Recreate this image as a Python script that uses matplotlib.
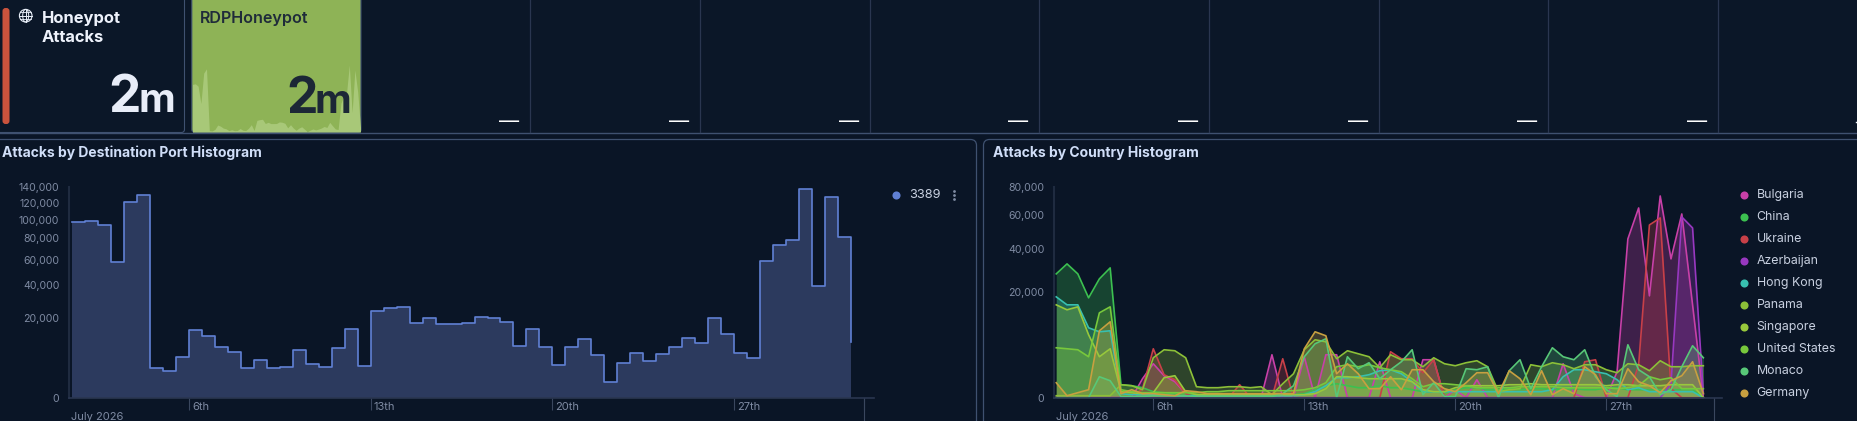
import numpy as np
import matplotlib
matplotlib.use("Agg")
import matplotlib.pyplot as plt
from matplotlib.patches import Circle, Ellipse, FancyBboxPatch, Rectangle
from matplotlib.transforms import ScaledTranslation

plt.rcParams['font.family'] = ['Inter', 'DejaVu Sans']

W, H = 1857, 421

# 12 hour buckets, as day of July
days = np.arange(1.5, 31.75, 0.5)

port_3389 = [97405, 98515, 93750, 58160, 120390, 129160, 2830, 2236, 5286, 14257,
             11958, 7967, 6462, 2767, 4541, 2706, 2957, 7145, 3564, 2893,
             7653, 14971, 3153, 23801, 25282, 26040, 17375, 19791, 17219, 17219,
             17375, 20631, 19958, 17846, 8503, 14971, 8179, 3424, 7967, 10700,
             5814, 739, 3707, 6180, 4305, 5905, 8072, 11320, 9283, 19791,
             12746, 6274, 5031, 58733, 73290, 78500, 136917, 39680, 126620, 81847,
             9628]

bulgaria = [0, 0, 0, 0, 0, 0, 0, 0, 649, 2077,
            870, 460, 29, 0, 0, 0, 0, 0, 0, 0,
            3323, 0, 0, 3021, 0, 3323, 3323, 0, 0, 0,
            2329, 0, 0, 0, 2595, 2595, 0, 115, 0, 582,
            0, 0, 0, 0, 0, 0, 0, 2077, 29, 0,
            0, 0, 1215, 45430, 64871, 18696, 73326, 34721, 60840, 15542,
            0]
china = [27631, 32267, 27631, 17970, 25449, 30369, 304, 259, 180, 65,
         45, 29, 29, 16, 16, 16, 16, 16, 16, 16,
         16, 16, 16, 29, 115, 259, 352, 259, 180, 180,
         259, 180, 180, 115, 65, 65, 45, 115, 180, 180,
         115, 115, 146, 115, 146, 146, 115, 146, 146, 115,
         115, 180, 180, 115, 115, 115, 115, 115, 115, 115,
         0]
ukraine = [0, 0, 0, 0, 0, 0, 0, 0, 146, 4315,
           950, 582, 29, 0, 0, 0, 0, 304, 0, 0,
           0, 2733, 0, 0, 0, 0, 0, 0, 0, 0,
           0, 3802, 2733, 2733, 1123, 2595, 0, 0, 0, 0,
           0, 0, 0, 0, 0, 0, 0, 0, 0, 2329,
           2595, 0, 0, 0, 1957, 53782, 58223, 146, 0, 0,
           0]
azerbaijan = [0, 0, 0, 0, 0, 0, 0, 0, 0, 0,
              0, 0, 0, 0, 0, 0, 0, 0, 0, 0,
              0, 0, 0, 0, 0, 0, 0, 0, 0, 0,
              0, 0, 0, 0, 0, 0, 0, 0, 0, 0,
              0, 0, 0, 0, 0, 0, 0, 0, 0, 0,
              0, 0, 0, 0, 0, 0, 0, 352, 58871, 51933,
              29]
hong_kong = [18331, 15542, 15542, 8805, 7828, 8067, 29, 16, 16, 16,
             16, 7, 7, 7, 7, 7, 7, 7, 7, 7,
             7, 7, 7, 16, 65, 259, 719, 719, 792, 950,
             1310, 1409, 1035, 460, 65, 65, 65, 65, 65, 65,
             65, 65, 65, 65, 65, 65, 115, 792, 1409, 1409,
             1215, 1035, 582, 115, 180, 65, 65, 65, 65, 65,
             0]
panama = [7, 7, 7, 7, 7, 7, 304, 259, 115, 2875,
          4140, 3970, 2875, 217, 180, 180, 217, 217, 180, 217,
          16, 352, 1035, 4140, 6045, 5635, 2733, 3970, 3479, 3021,
          1617, 3323, 2595, 2595, 1727, 2875, 2077, 1840, 2201, 2460,
          1727, 65, 115, 146, 1957, 1727, 2201, 1957, 1511, 1957,
          1957, 1409, 1123, 2077, 1957, 1310, 2460, 1727, 1727, 1840,
          1840]
singapore = [15542, 13916, 14881, 7132, 3021, 4315, 65, 45, 29, 45,
             719, 870, 65, 16, 16, 16, 16, 16, 16, 16,
             16, 16, 16, 16, 29, 146, 792, 792, 719, 649,
             649, 649, 649, 460, 115, 65, 65, 180, 259, 259,
             259, 259, 304, 304, 352, 304, 304, 304, 304, 304,
             304, 259, 304, 304, 259, 259, 259, 304, 304, 304,
             0]
united_states = [4493, 4315, 4140, 3021, 12983, 14881, 115, 65, 45, 45,
                 45, 45, 45, 45, 65, 65, 88, 88, 88, 88,
                 88, 88, 88, 115, 180, 404, 1727, 1957, 1727, 1957,
                 1617, 1409, 1215, 649, 217, 352, 352, 304, 259, 180,
                 180, 180, 180, 217, 217, 217, 217, 180, 180, 180,
                 180, 180, 146, 180, 259, 792, 582, 719, 146, 146,
                 146]
monaco = [0, 0, 0, 0, 792, 519, 2, 2, 2, 7,
          7, 7, 7, 2, 2, 2, 2, 2, 2, 2,
          2, 29, 259, 3021, 5240, 6255, 0, 3021, 1511, 2201,
          649, 1409, 2329, 4140, 16, 404, 2, 2, 1511, 1409,
          1727, 0, 1310, 2595, 146, 1727, 4493, 3021, 2595, 4140,
          792, 115, 2, 5048, 1409, 792, 16, 115, 1727, 4859,
          2875]
germany = [404, 7, 45, 115, 8067, 10380, 29, 115, 29, 29,
           16, 7, 88, 65, 29, 29, 29, 29, 29, 29,
           29, 29, 29, 4315, 7828, 6908, 1035, 2077, 1035, 146,
           146, 792, 115, 1409, 1409, 460, 146, 65, 404, 1123,
           1123, 29, 1310, 649, 16, 1310, 16, 146, 29, 1727,
           950, 29, 29, 1511, 460, 259, 45, 519, 870, 2329,
           29]

countries = ['Bulgaria', 'China', 'Ukraine', 'Azerbaijan', 'Hong Kong',
             'Panama', 'Singapore', 'United States', 'Monaco', 'Germany']
country_values = [bulgaria, china, ukraine, azerbaijan, hong_kong,
                  panama, singapore, united_states, monaco, germany]
country_colors = ['#c840a8', '#3cc050', '#c84048', '#9838c0', '#38c0b0',
                  '#8cc038', '#98c83c', '#78c83c', '#58c878', '#c8a040']

port_ticks = [0, 20000, 40000, 60000, 80000, 100000, 120000, 140000]
country_ticks = [0, 20000, 40000, 60000, 80000]
day_ticks = [6, 13, 20, 27, 32]
day_labels = ['6th', '13th', '20th', '27th', '']

BG = '#0a1526'
STRIP = '#0b1728'
BORDER = '#3f5170'
TICK = '#7f8ba3'
TITLE = '#d0def8'

fig = plt.figure(figsize=(W / 100, H / 100), dpi=100, facecolor=BG)


def px_axes(x0, y0, x1, y1, **kw):
    return fig.add_axes([x0 / W, 1 - y1 / H, (x1 - x0) / W, (y1 - y0) / H], **kw)


# everything around the charts is drawn in pixel coordinates
bg = px_axes(0, 0, W, H)
bg.set_xlim(0, W)
bg.set_ylim(H, 0)
bg.axis('off')

bg.add_patch(Rectangle((0, 0), W, 132.5, color=STRIP, lw=0))
bg.plot([0, W], [132.5, 132.5], color=BORDER, lw=1)

# first card
bg.add_patch(FancyBboxPatch((-10, -10), 194.5, 142.5, boxstyle='round,pad=0,rounding_size=3',
                            fc=STRIP, ec=BORDER, lw=0.8))
bg.add_patch(FancyBboxPatch((2.5, 8), 7, 116, boxstyle='round,pad=0,rounding_size=3',
                            fc='#c9533d', ec='none'))
bg.add_patch(Circle((25.7, 15.7), 6.3, fc='none', ec='#e8eef8', lw=0.8))
bg.add_patch(Ellipse((25.7, 15.7), 6, 12.6, fc='none', ec='#e8eef8', lw=0.7))
bg.plot([19.4, 32], [15.7, 15.7], color='#e8eef8', lw=0.7)
bg.plot([25.7, 25.7], [9.4, 22], color='#e8eef8', lw=0.7)
bg.plot([20.4, 31], [12, 12], color='#e8eef8', lw=0.6)
bg.plot([20.4, 31], [19.4, 19.4], color='#e8eef8', lw=0.6)
bg.text(42, 18, 'Honeypot', color='#eef2fb', fontsize=11.9, fontweight='bold', va='center')
bg.text(42, 37, 'Attacks', color='#eef2fb', fontsize=11.9, fontweight='bold', va='center')
bg.text(141, 112, '2', color='#e8edf8', fontsize=37, fontweight='bold', ha='right', va='baseline')
bg.text(175.5, 112, 'm', color='#e8edf8', fontsize=29, fontweight='bold', ha='right', va='baseline')

# green card
bg.add_patch(FancyBboxPatch((191.8, -10), 169.2, 142.5, boxstyle='round,pad=0,rounding_size=3',
                            fc='#8eb356', ec=BORDER, lw=0.8))
spark = px_axes(192.5, 65, 360.5, 132)
spark.fill_between(days, port_3389, 0, color='#a8c878', lw=0)
spark.set_xlim(1.5, 31.5)
spark.set_ylim(0, 137000)
spark.axis('off')

# the empty cards
for x in [530, 700, 870, 1039, 1209, 1379, 1548, 1718]:
    bg.plot([x, x], [0, 132], color='#2a3650', lw=0.9)
    bg.text(x - 21, 122.5, '—', color='#ffffff', fontsize=14.5, ha='center', va='center')
bg.plot([1856, 1858], [122.3, 122.3], color='#f0f4fa', lw=1)

top = fig.add_axes([0, 0, 1, 1], facecolor='none')
top.set_xlim(0, W)
top.set_ylim(H, 0)
top.axis('off')
top.text(200, 19, 'RDPHoneypot', color='#1f2b3a', fontsize=11.6, fontweight='semibold', va='center')
top.text(318, 112.7, '2', color='#1c2736', fontsize=36, fontweight='bold', ha='right', va='baseline')
top.text(351.5, 112.7, 'm', color='#1c2736', fontsize=29, fontweight='bold', ha='right', va='baseline')

# panels
bg.add_patch(FancyBboxPatch((-10, 139.5), 986.5, 300, boxstyle='round,pad=0,rounding_size=6',
                            fc=BG, ec=BORDER, lw=0.9))
bg.add_patch(FancyBboxPatch((983.5, 139.5), 1000, 300, boxstyle='round,pad=0,rounding_size=6',
                            fc=BG, ec=BORDER, lw=0.9))
top.text(2, 152.3, 'Attacks by Destination Port Histogram', color=TITLE, fontsize=10,
         fontweight='bold', va='center')
top.text(992.7, 152.3, 'Attacks by Country Histogram', color=TITLE, fontsize=10,
         fontweight='bold', va='center')


def style_axis(ax, yticks):
    ax.set_facecolor('none')
    ax.set_yscale('function', functions=(np.sqrt, lambda v: v ** 2))
    ax.set_ylim(0, yticks[-1])
    ax.set_yticks(yticks)
    ax.set_yticklabels([f'{v:,}' for v in yticks])
    ax.minorticks_off()
    ax.tick_params(axis='y', length=0, pad=7, labelsize=7.6, labelcolor=TICK)
    ax.set_xticks(day_ticks)
    ax.set_xticklabels(day_labels, ha='left')
    ax.tick_params(axis='x', length=8.6, width=0.8, color='#3a475e', pad=-5.8, labelsize=8, labelcolor=TICK)
    shift = ScaledTranslation(3 / 100, 0, fig.dpi_scale_trans)
    for lab in ax.get_xticklabels():
        lab.set_transform(lab.get_transform() + shift)
    for s in ['top', 'right']:
        ax.spines[s].set_visible(False)
    ax.spines['left'].set_color('#1f2b40')
    ax.spines['left'].set_linewidth(1.5)
    ax.spines['bottom'].set_color('#2a3650')
    ax.spines['bottom'].set_linewidth(1.2)
    # august tick runs off the bottom, no label
    ax.plot([32, 32], [0, -0.11], transform=ax.get_xaxis_transform(), color='#3a475e',
            lw=0.8, clip_on=False)
    ax.annotate('July 2026', (0, 0), xycoords='axes fraction', xytext=(2, -19),
                textcoords='offset pixels', color=TICK, fontsize=8, va='center',
                annotation_clip=False)


ax1 = px_axes(69, 187, 874, 397.7)
ax1.fill_between(days, port_3389, 0, step='post', color='#2c3a5e', lw=0)
ax1.plot(days, port_3389, drawstyle='steps-post', color='#6080d4', lw=1.2)
ax1.set_xlim(1.377, 32.39)
style_axis(ax1, port_ticks)

ax2 = px_axes(1054, 187, 1721.7, 397.7)
for name, vals, col in zip(countries, country_values, country_colors):
    ax2.fill_between(days, vals, 0, color=col, alpha=0.28, lw=0)
    ax2.plot(days, vals, color=col, lw=1.2)
ax2.set_xlim(1.396, 32.35)
style_axis(ax2, country_ticks)

# legends
top.scatter([895.7], [195], s=34, color='#6080d4', lw=0)
top.text(908.7, 195, '3389', color='#c8d0e0', fontsize=9.2, va='center')
top.scatter([954.3] * 3, [190.5, 195, 199], s=4, color=TICK, lw=0)
for i, (name, col) in enumerate(zip(countries, country_colors)):
    y = 195 + 22 * i
    top.scatter([1744], [y], s=34, color=col, lw=0)
    top.text(1756.7, y, name, color='#c8d0e0', fontsize=8.9, va='center')

fig.savefig('out.png', dpi=100, facecolor=BG)
